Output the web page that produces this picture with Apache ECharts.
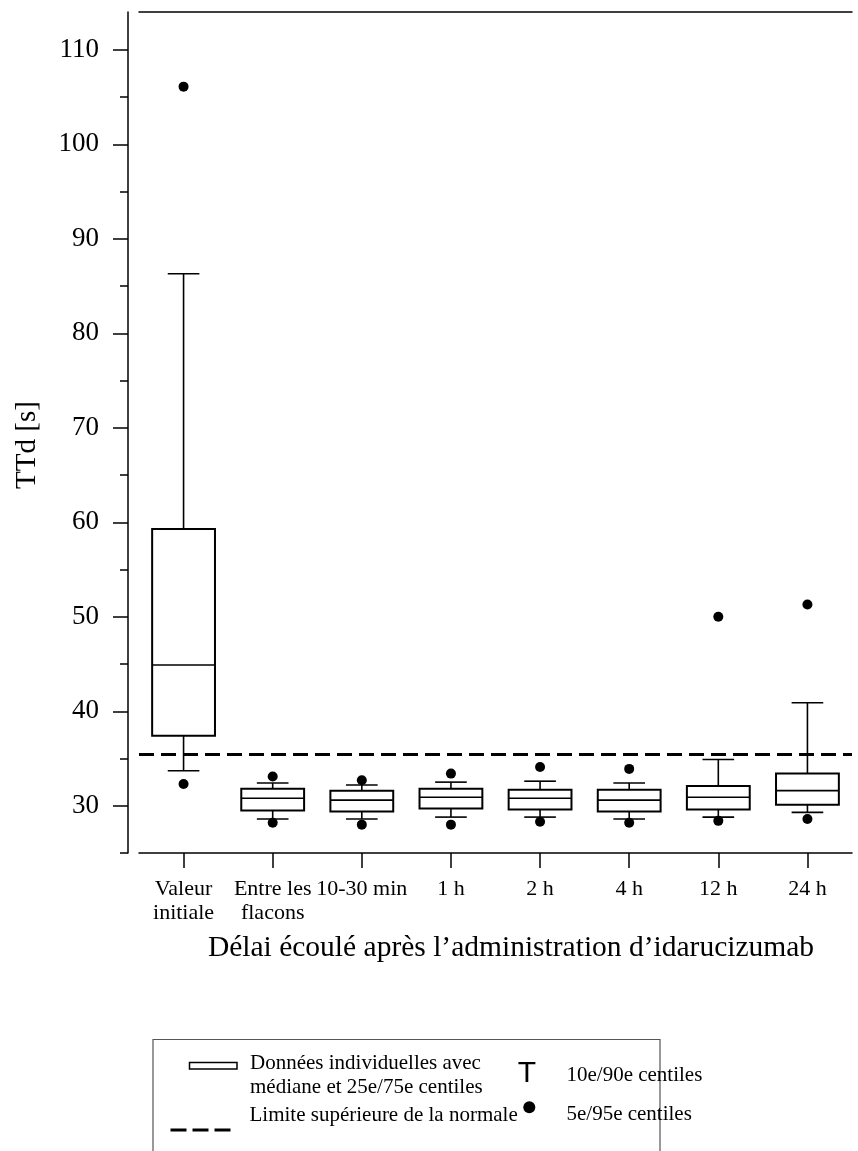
<!DOCTYPE html>
<html>
<head>
<meta charset="utf-8">
<script src="https://cdn.jsdelivr.net/npm/echarts@6/dist/echarts.min.js"></script>
<style>
html,body{margin:0;padding:0;background:#fff;}
#chart{width:858px;height:1151px;}
</style>
</head>
<body>
<div id="chart"></div>
<script>
// ---- Data ----
const categories = ['Valeur\ninitiale', 'Entre les\nflacons', '10-30 min', '1 h', '2 h', '4 h', '12 h', '24 h'];
const p10 =    [33.7, 28.6, 28.6, 28.8, 28.8, 28.6, 28.8, 29.3];
const q1 =     [37.4, 29.5, 29.4, 29.7, 29.6, 29.4, 29.6, 30.1];
const median = [44.9, 30.8, 30.6, 30.9, 30.8, 30.6, 30.9, 31.6];
const q3 =     [59.3, 31.8, 31.6, 31.8, 31.7, 31.7, 32.1, 33.4];
const p90 =    [86.3, 32.4, 32.2, 32.5, 32.6, 32.4, 34.9, 40.9];
const p5 =     [32.3, 28.2, 28.0, 28.0, 28.3, 28.2, 28.4, 28.6];
const p95 =    [106.1, 33.1, 32.7, 33.4, 34.1, 33.9, 50.0, 51.3];
const upperLimit = 35.5;
const yMin = 25, yMax = 114;
const yMajorTicks = [30, 40, 50, 60, 70, 80, 90, 100, 110];
const yMinorTicks = [25, 35, 45, 55, 65, 75, 85, 95, 105];
const yTitle = 'TTd [s]';
const xTitle = 'Délai écoulé après l’administration d’idarucizumab';
const legendBoxText = 'Données individuelles avec\nmédiane et 25e/75e centiles';
const legendLineText = 'Limite supérieure de la normale';
const legendWhiskerText = '10e/90e centiles';
const legendDotText = '5e/95e centiles';

// ---- Build ----
const serif = '"Liberation Serif", "Times New Roman", serif';
const boxData = categories.map((c, i) => [i, p10[i], q1[i], median[i], q3[i], p90[i]]);
const dotData = [];
categories.forEach((c, i) => { dotData.push([i, p5[i]]); dotData.push([i, p95[i]]); });

const chart = echarts.init(document.getElementById('chart'), null, {renderer: 'canvas'});

function renderBox(params, api) {
  const x = api.value(0);
  const lo = api.coord([x, api.value(1)]);
  const b1 = api.coord([x, api.value(2)]);
  const md = api.coord([x, api.value(3)]);
  const b3 = api.coord([x, api.value(4)]);
  const hi = api.coord([x, api.value(5)]);
  const band = api.size([1, 0])[0];
  const bw = band * 0.705, cw = band * 0.355;
  const cx = lo[0];
  const ws = {stroke: '#000', lineWidth: 1.6, fill: null};
  const bs = {stroke: '#000', lineWidth: 2, fill: '#fff'};
  return {
    type: 'group',
    children: [
      {type: 'line', shape: {x1: cx, y1: b1[1], x2: cx, y2: lo[1]}, style: ws},
      {type: 'line', shape: {x1: cx - cw / 2, y1: lo[1], x2: cx + cw / 2, y2: lo[1]}, style: ws},
      {type: 'line', shape: {x1: cx, y1: b3[1], x2: cx, y2: hi[1]}, style: ws},
      {type: 'line', shape: {x1: cx - cw / 2, y1: hi[1], x2: cx + cw / 2, y2: hi[1]}, style: ws},
      {type: 'rect', shape: {x: cx - bw / 2, y: b3[1], width: bw, height: b1[1] - b3[1]}, style: bs},
      {type: 'line', shape: {x1: cx - bw / 2, y1: md[1], x2: cx + bw / 2, y2: md[1]}, style: {stroke: '#000', lineWidth: 1.6}}
    ]
  };
}

const option = {
  backgroundColor: '#fff',
  animation: false,
  grid: {left: 139, right: 6, top: 12, bottom: 298, containLabel: false, outerBoundsMode: 'none'},
  xAxis: [
    {
      type: 'category', data: categories, position: 'bottom', boundaryGap: true,
      axisLine: {show: true, lineStyle: {color: '#000', width: 1.5}},
      axisTick: {show: true, alignWithLabel: true, length: 15, lineStyle: {color: '#000', width: 1.5}},
      axisLabel: {interval: 0, fontFamily: serif, fontSize: 22, lineHeight: 24, color: '#000', margin: 24},
      splitLine: {show: false}
    },
    {
      type: 'category', data: categories, position: 'top', boundaryGap: true,
      axisLine: {show: true, lineStyle: {color: '#000', width: 1.5}},
      axisTick: {show: false}, axisLabel: {show: false}, splitLine: {show: false}
    }
  ],
  yAxis: [
    {
      type: 'value', min: yMin, max: yMax, position: 'left', offset: 11,
      axisLine: {show: true, lineStyle: {color: '#000', width: 1.5}},
      axisTick: {show: true, customValues: yMajorTicks, length: 15, lineStyle: {color: '#000', width: 1.5}},
      axisLabel: {show: true, customValues: yMajorTicks, fontFamily: serif, fontSize: 27, color: '#000', margin: 29},
      splitLine: {show: false}
    },
    {
      type: 'value', min: yMin, max: yMax, position: 'left', offset: 11,
      axisLine: {show: false},
      axisTick: {show: true, customValues: yMinorTicks, length: 8, lineStyle: {color: '#000', width: 1.5}},
      axisLabel: {show: false}, splitLine: {show: false}
    }
  ],
  series: [
    {
      type: 'custom', xAxisIndex: 0, yAxisIndex: 0,
      renderItem: renderBox,
      encode: {x: 0, y: [1, 2, 3, 4, 5]},
      data: boxData,
      z: 2,
      markLine: {
        silent: true, symbol: ['none', 'none'], label: {show: false},
        lineStyle: {color: '#000', width: 3, type: [15, 7]},
        data: [{yAxis: upperLimit}],
        z: 5
      }
    },
    {
      type: 'scatter', xAxisIndex: 0, yAxisIndex: 0,
      data: dotData, symbol: 'circle', symbolSize: 10,
      itemStyle: {color: '#000', opacity: 1}, z: 6
    }
  ],
  graphic: [
    {type: 'text', x: 27, y: 445, rotation: Math.PI / 2,
     style: {text: yTitle, font: '29px ' + serif, fill: '#000', align: 'center', verticalAlign: 'middle'}},
    {type: 'text', x: 511, y: 948,
     style: {text: xTitle, font: '29.5px ' + serif, fill: '#000', align: 'center', verticalAlign: 'middle'}},
    // legend frame
    {type: 'rect', shape: {x: 153, y: 1039.5, width: 507, height: 140},
     style: {fill: null, stroke: '#555', lineWidth: 1.2}},
    {type: 'rect', shape: {x: 189.5, y: 1062.5, width: 47.5, height: 6.5},
     style: {fill: '#fff', stroke: '#000', lineWidth: 1.5}},
    {type: 'text', x: 250, y: 1075.5,
     style: {text: legendBoxText, font: '21px ' + serif, lineHeight: 24, fill: '#000', align: 'left', verticalAlign: 'middle'}},
    {type: 'line', shape: {x1: 170.5, y1: 1130, x2: 230.5, y2: 1130},
     style: {stroke: '#000', lineWidth: 3, lineDash: [16, 6]}},
    {type: 'text', x: 249.5, y: 1115,
     style: {text: legendLineText, font: '21px ' + serif, fill: '#000', align: 'left', verticalAlign: 'middle'}},
    {type: 'text', x: 527, y: 1073.5,
     style: {text: 'T', font: '30px "Liberation Sans", Arial, sans-serif', fill: '#000', align: 'center', verticalAlign: 'middle'}},
    {type: 'text', x: 566.5, y: 1075.5,
     style: {text: legendWhiskerText, font: '21px ' + serif, fill: '#000', align: 'left', verticalAlign: 'middle'}},
    {type: 'circle', shape: {cx: 529.3, cy: 1107.3, r: 6}, style: {fill: '#000'}},
    {type: 'text', x: 566.5, y: 1114.5,
     style: {text: legendDotText, font: '21px ' + serif, fill: '#000', align: 'left', verticalAlign: 'middle'}}
  ]
};
chart.setOption(option);
</script>
</body>
</html>
